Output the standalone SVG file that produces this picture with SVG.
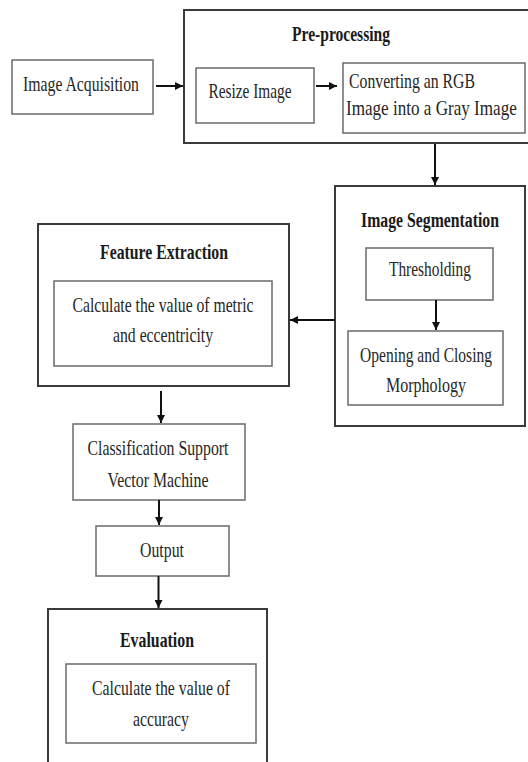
<svg xmlns="http://www.w3.org/2000/svg" width="528" height="762" viewBox="0 0 528 762">
<defs>
<marker id="ah" viewBox="0 0 10 10" refX="10" refY="5" markerWidth="8" markerHeight="8" markerUnits="userSpaceOnUse" orient="auto">
<path d="M0,0 L10,5 L0,10 z" fill="#111"/>
</marker>
<style>
.outer{fill:#fff;stroke:#3a3a3a;stroke-width:2}
.inner{fill:#fff;stroke:#6a6a6a;stroke-width:1.5}
.t{font-family:"Liberation Serif","Times New Roman",serif;font-size:22px;fill:#262626;text-anchor:middle}
.tl{font-family:"Liberation Serif","Times New Roman",serif;font-size:22px;fill:#262626}
.b{font-weight:bold;fill:#1a1a1a}
.c{stroke:#111;stroke-width:2;fill:none;marker-end:url(#ah)}
</style>
</defs>
<rect width="528" height="762" fill="#fff"/>

<g id="acq">
<rect class="inner" x="12" y="60" width="141" height="54"/>
<text class="t" x="81" y="91" textLength="116" lengthAdjust="spacingAndGlyphs">Image Acquisition</text>
</g>

<g id="preprocessing">
<rect class="outer" x="184" y="10" width="350" height="133"/>
<text class="t b" x="341" y="41" textLength="98" lengthAdjust="spacingAndGlyphs">Pre-processing</text>
</g>
<g id="resize">
<rect class="inner" x="196" y="68" width="118" height="55"/>
<text class="t" x="250" y="98" textLength="83" lengthAdjust="spacingAndGlyphs">Resize Image</text>
</g>
<g id="convert">
<rect class="inner" x="343" y="63" width="182" height="70"/>
<text class="tl" x="349" y="88" textLength="126" lengthAdjust="spacingAndGlyphs">Converting an RGB</text>
<text class="tl" transform="translate(346,115) scale(0.777,1)">Image into a Gray Image</text>
</g>

<g id="segmentation">
<rect class="outer" x="335" y="186" width="190" height="240"/>
<text class="t b" transform="translate(430,227) scale(0.717,1)">Image Segmentation</text>
</g>
<g id="thresholding">
<rect class="inner" x="366" y="248" width="127" height="52"/>
<text class="t" x="430" y="276" textLength="82" lengthAdjust="spacingAndGlyphs">Thresholding</text>
</g>
<g id="morphology">
<rect class="inner" x="348" y="331" width="155" height="74"/>
<text class="t" transform="translate(426,362) scale(0.706,1)">Opening and Closing</text>
<text class="t" x="426" y="392" textLength="80" lengthAdjust="spacingAndGlyphs">Morphology</text>
</g>

<g id="feature">
<rect class="outer" x="38" y="224" width="251" height="162"/>
<text class="t b" x="164" y="259" textLength="128" lengthAdjust="spacingAndGlyphs">Feature Extraction</text>
</g>
<g id="metric">
<rect class="inner" x="54" y="281" width="218" height="85"/>
<text class="t" x="163" y="312" textLength="181" lengthAdjust="spacingAndGlyphs">Calculate the value of metric</text>
<text class="t" x="163" y="342" textLength="100" lengthAdjust="spacingAndGlyphs">and eccentricity</text>
</g>

<g id="svm">
<rect class="inner" x="73" y="424" width="172" height="76"/>
<text class="t" x="158" y="455" textLength="141" lengthAdjust="spacingAndGlyphs">Classification Support</text>
<text class="t" x="158" y="487" textLength="101" lengthAdjust="spacingAndGlyphs">Vector Machine</text>
</g>

<g id="output">
<rect class="inner" x="96" y="526" width="133" height="50"/>
<text class="t" x="162" y="557" textLength="44" lengthAdjust="spacingAndGlyphs">Output</text>
</g>

<g id="evaluation">
<rect class="outer" x="48" y="609" width="219" height="200"/>
<text class="t b" x="157" y="647" textLength="74" lengthAdjust="spacingAndGlyphs">Evaluation</text>
</g>
<g id="accuracy">
<rect class="inner" x="66" y="664" width="190" height="79"/>
<text class="t" x="161" y="695" textLength="138" lengthAdjust="spacingAndGlyphs">Calculate the value of</text>
<text class="t" x="161" y="726" textLength="56" lengthAdjust="spacingAndGlyphs">accuracy</text>
</g>

<g id="connectors">
<line class="c" x1="156" y1="86" x2="183" y2="86"/>
<line class="c" x1="316" y1="86" x2="337" y2="86"/>
<line class="c" x1="435" y1="144" x2="435" y2="185"/>
<line class="c" x1="436" y1="300" x2="436" y2="330"/>
<line class="c" x1="335" y1="320" x2="290" y2="320"/>
<line class="c" x1="161" y1="391" x2="161" y2="423"/>
<line class="c" x1="159" y1="500" x2="159" y2="525"/>
<line class="c" x1="158.5" y1="576" x2="158.5" y2="608"/>
</g>
</svg>
